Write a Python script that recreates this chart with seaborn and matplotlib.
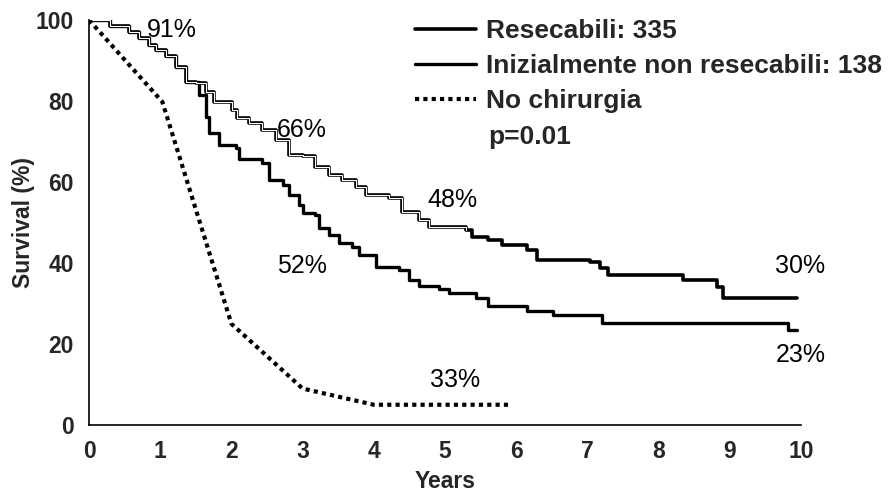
import matplotlib
matplotlib.use("Agg")
import matplotlib.pyplot as plt
import seaborn as sns
import pandas as pd

# ---- data ----
res_years = [0, 0.3, 0.56, 0.7, 0.84, 0.94, 1.08, 1.22, 1.36, 1.5, 1.64, 1.76, 2.01,
             2.08, 2.25, 2.43, 2.62, 2.81, 3.0, 3.18, 3.37, 3.56, 3.75, 3.89, 4.21,
             4.4, 4.63, 4.78, 5.29, 5.38, 5.6, 5.8, 6.15, 6.29, 7.04, 7.18, 7.29,
             8.34, 8.82, 8.9, 9.94]
res_surv = [100, 98.5, 97.1, 95.5, 93.8, 92.6, 91, 88.5, 84.8, 84.4, 82.3, 79.8, 77.8,
            75.7, 74.5, 72.8, 70.4, 66.7, 66.3, 63.8, 61.7, 60.5, 58.8, 56.8, 56,
            52.7, 50.6, 49, 48.1, 46.5, 45.7, 44.5, 43.2, 40.7, 40.3, 38.7, 37,
            35.8, 34, 31.3, 31.3]

inr_years = [0, 0.3, 0.56, 0.7, 0.84, 0.94, 1.08, 1.22, 1.36, 1.54, 1.64, 1.69, 1.83,
             2.06, 2.11, 2.43, 2.53, 2.72, 2.81, 2.95, 3.0, 3.18, 3.23, 3.37, 3.51,
             3.7, 3.79, 4.03, 4.35, 4.49, 4.63, 4.92, 5.06, 5.43, 5.6, 6.15, 6.52,
             7.2, 9.82, 9.94]
inr_surv = [100, 98.5, 97.1, 95.5, 93.8, 92.6, 91, 88.5, 84.8, 81.5, 76.1, 72, 69.1,
            68.3, 65.8, 64.6, 60.5, 59.3, 56.8, 54.3, 52.3, 51.9, 48.6, 46.9, 44.9,
            44, 42, 39.1, 38.3, 35.8, 34.2, 33.7, 32.5, 31.3, 29.5, 28.2, 27.2,
            25.2, 23.5, 23.5]

noc_years = [0, 1.03, 2, 3, 4, 5.9]
noc_surv = [100, 79.8, 25, 9, 5, 5]

labels = ["Resecabili: 335", "Inizialmente non resecabili: 138", "No chirurgia"]
x_ticks = list(range(0, 11))
y_ticks = [0, 20, 40, 60, 80, 100]

annotations = [("91%", 1.17, 97.5), ("66%", 2.99, 72.8), ("48%", 5.11, 55.5),
               ("52%", 2.99, 39.3), ("33%", 5.14, 11.1), ("30%", 9.99, 39.3),
               ("23%", 9.99, 17.3)]

# ---- plot ----
sns.set_style("white")
plt.rcParams['font.family'] = ['Liberation Sans', 'DejaVu Sans']

fig = plt.figure(figsize=(8.91, 4.93), dpi=100)
ax = fig.add_axes([89/891, 1 - 425/493, (801 - 89)/891, (425 - 20)/493])

df_res = pd.DataFrame({"Years": res_years, "Survival": res_surv})
df_inr = pd.DataFrame({"Years": inr_years, "Survival": inr_surv})
df_noc = pd.DataFrame({"Years": noc_years, "Survival": noc_surv})

sns.lineplot(data=df_res, x="Years", y="Survival", ax=ax, color="black", lw=2.6,
             drawstyle="steps-post", estimator=None, sort=False, label=labels[0])
sns.lineplot(data=df_inr, x="Years", y="Survival", ax=ax, color="black", lw=2.4,
             drawstyle="steps-post", estimator=None, sort=False, label=labels[1])
# thin white core on the early part of the upper curve (double-line look)
sns.lineplot(data=df_res[df_res["Years"] <= 5.3], x="Years", y="Survival", ax=ax,
             color="white", lw=0.8, drawstyle="steps-post", estimator=None,
             sort=False)
sns.lineplot(data=df_noc, x="Years", y="Survival", ax=ax, color="black", lw=3,
             linestyle=(0, (1, 1)), estimator=None, sort=False, label=labels[2])

ax.set_xlim(0, 10)
ax.set_ylim(0, 100)
ax.set_xticks(x_ticks)
ax.set_yticks(y_ticks)
ax.tick_params(axis="both", direction="out", length=4, width=1, color="black",
               labelsize=16.5, pad=7)
for t in ax.get_xticklabels() + ax.get_yticklabels():
    t.set_fontweight("bold")

for s in ["top", "right"]:
    ax.spines[s].set_visible(False)
for s in ["left", "bottom"]:
    ax.spines[s].set_color("black")
    ax.spines[s].set_linewidth(1.2)

ax.set_xlabel("Years", fontsize=16.5, fontweight="bold", labelpad=5)
ax.set_ylabel("Survival (%)", fontsize=16.5, fontweight="bold", labelpad=0)

for txt, xx, yy in annotations:
    ax.text(xx, yy, txt, fontsize=18, ha="center", va="center", color="black")

leg = ax.legend(loc="upper left", bbox_to_anchor=(415/891, 1 - 19/493),
                bbox_transform=fig.transFigure, frameon=False,
                prop={"weight": "bold", "size": 19}, handlelength=2.3,
                handletextpad=0.4, labelspacing=0.42, borderpad=0, borderaxespad=0)
fig.text(488/891, 1 - 137/493, "p=0.01", fontsize=19, fontweight="bold",
         ha="left", va="center")

fig.savefig("out.png", dpi=100)
